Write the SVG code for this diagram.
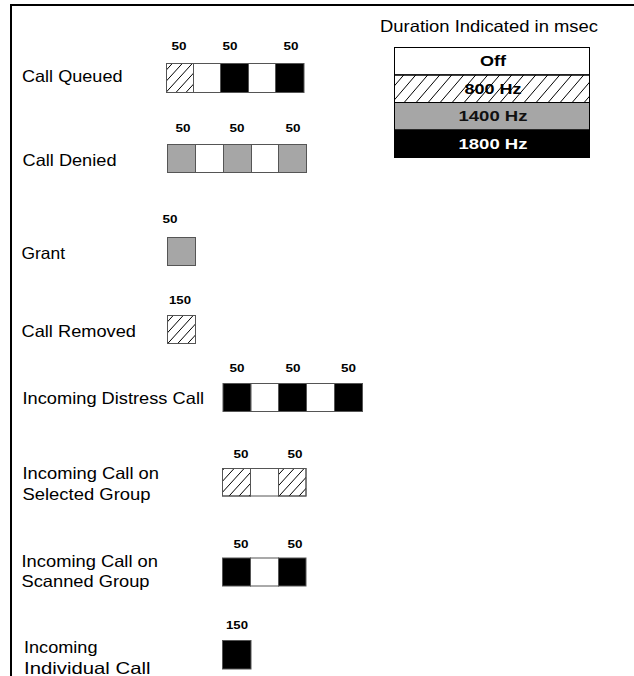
<svg xmlns="http://www.w3.org/2000/svg" width="634" height="676" viewBox="0 0 634 676">
<defs>
<pattern id="hatch" patternUnits="userSpaceOnUse" width="10" height="11">
<path d="M-1,12.1 L11,-1.1 M-11,12.1 L1,-1.1 M9,12.1 L21,-1.1" stroke="#000" stroke-width="1"/>
</pattern>
<pattern id="hatchL" patternUnits="userSpaceOnUse" width="12" height="14">
<path d="M0,14 L12,0 M-12,14 L0,0 M12,14 L24,0" stroke="#000" stroke-width="1"/>
</pattern>
<style>
.lbl{font-family:"Liberation Sans",Arial,sans-serif;font-size:16.5px;fill:#000}
.num{font-family:"Liberation Sans",Arial,sans-serif;font-size:11.5px;font-weight:bold;fill:#000;text-anchor:middle}
.leg{font-family:"Liberation Sans",Arial,sans-serif;font-size:15.5px;font-weight:bold;text-anchor:middle}
.c{stroke:#555;stroke-width:1}
.w{fill:#fff}
.k{fill:#000}
.g{fill:#a6a6a6}
.h{fill:url(#hatch)}
</style>
</defs>
<rect x="0" y="0" width="634" height="676" fill="#fff"/>
<path d="M11,680 L11,5 L640,5" fill="none" stroke="#000" stroke-width="2"/>

<g id="legend">
<text class="lbl" x="380" y="32" textLength="218" lengthAdjust="spacingAndGlyphs">Duration Indicated in msec</text>
<rect x="394.5" y="47.5" width="195" height="27.5" fill="#fff" stroke="#000"/>
<rect x="394.5" y="75" width="195" height="27.5" fill="#fff" stroke="#000"/>
<rect x="394.5" y="75" width="195" height="27.5" fill="url(#hatchL)" stroke="#000"/>
<rect x="394.5" y="102.5" width="195" height="27.5" fill="#a6a6a6" stroke="#000"/>
<rect x="394.5" y="130" width="195" height="27.5" fill="#000" stroke="#000"/>
<text class="leg" x="493" y="66" fill="#000" textLength="26" lengthAdjust="spacingAndGlyphs">Off</text>
<text class="leg" x="493" y="94" fill="#000" textLength="57" lengthAdjust="spacingAndGlyphs">800 Hz</text>
<text class="leg" x="493" y="121" fill="#111" textLength="69" lengthAdjust="spacingAndGlyphs">1400 Hz</text>
<text class="leg" x="493" y="148.5" fill="#fff" textLength="69" lengthAdjust="spacingAndGlyphs">1800 Hz</text>
</g>

<g id="call-queued">
<text class="lbl" x="22" y="81.5" textLength="100.5" lengthAdjust="spacingAndGlyphs">Call Queued</text>
<text class="num" x="179" y="50" textLength="15" lengthAdjust="spacingAndGlyphs">50</text>
<text class="num" x="230" y="50" textLength="15" lengthAdjust="spacingAndGlyphs">50</text>
<text class="num" x="291" y="50" textLength="15" lengthAdjust="spacingAndGlyphs">50</text>
<rect class="c w" x="166.5" y="63.5" width="27" height="29"/>
<rect class="c h" x="166.5" y="63.5" width="27" height="29"/>
<rect class="c w" x="193.5" y="63.5" width="27" height="29"/>
<rect class="c k" x="220.5" y="63.5" width="28" height="29"/>
<rect class="c w" x="248.5" y="63.5" width="27" height="29"/>
<rect class="c k" x="275.5" y="63.5" width="28.5" height="29"/>
</g>

<g id="call-denied">
<text class="lbl" x="22.5" y="165.5" textLength="94" lengthAdjust="spacingAndGlyphs">Call Denied</text>
<text class="num" x="183" y="131.5" textLength="15" lengthAdjust="spacingAndGlyphs">50</text>
<text class="num" x="237" y="131.5" textLength="15" lengthAdjust="spacingAndGlyphs">50</text>
<text class="num" x="293" y="131.5" textLength="15" lengthAdjust="spacingAndGlyphs">50</text>
<rect class="c g" x="167.5" y="144.5" width="28" height="28"/>
<rect class="c w" x="195.5" y="144.5" width="28" height="28"/>
<rect class="c g" x="223.5" y="144.5" width="28" height="28"/>
<rect class="c w" x="251.5" y="144.5" width="27" height="28"/>
<rect class="c g" x="278.5" y="144.5" width="28" height="28"/>
</g>

<g id="grant">
<text class="lbl" x="21.5" y="258.5" textLength="43.5" lengthAdjust="spacingAndGlyphs">Grant</text>
<text class="num" x="170" y="222.5" textLength="15" lengthAdjust="spacingAndGlyphs">50</text>
<rect class="c g" x="167.5" y="237.5" width="28" height="28"/>
</g>

<g id="call-removed">
<text class="lbl" x="21.5" y="336.5" textLength="114.5" lengthAdjust="spacingAndGlyphs">Call Removed</text>
<text class="num" x="180" y="304" textLength="22" lengthAdjust="spacingAndGlyphs">150</text>
<rect class="c w" x="167.5" y="315.5" width="28" height="28"/>
<rect class="c h" x="167.5" y="315.5" width="28" height="28"/>
</g>

<g id="incoming-distress-call">
<text class="lbl" x="22.5" y="404" textLength="181.5" lengthAdjust="spacingAndGlyphs">Incoming Distress Call</text>
<text class="num" x="237" y="371.5" textLength="15" lengthAdjust="spacingAndGlyphs">50</text>
<text class="num" x="293" y="371.5" textLength="15" lengthAdjust="spacingAndGlyphs">50</text>
<text class="num" x="348.5" y="371.5" textLength="15" lengthAdjust="spacingAndGlyphs">50</text>
<rect class="c k" x="223" y="383.5" width="28" height="28"/>
<rect class="c w" x="251" y="383.5" width="27.5" height="28"/>
<rect class="c k" x="278.5" y="383.5" width="28" height="28"/>
<rect class="c w" x="306.5" y="383.5" width="28" height="28"/>
<rect class="c k" x="334.5" y="383.5" width="28" height="28"/>
</g>

<g id="incoming-call-selected-group">
<text class="lbl" x="22.5" y="478.5" textLength="136.5" lengthAdjust="spacingAndGlyphs">Incoming Call on</text>
<text class="lbl" x="22.5" y="500" textLength="128" lengthAdjust="spacingAndGlyphs">Selected Group</text>
<text class="num" x="241" y="458" textLength="15" lengthAdjust="spacingAndGlyphs">50</text>
<text class="num" x="295" y="458" textLength="15" lengthAdjust="spacingAndGlyphs">50</text>
<rect class="c w" x="222.5" y="468.5" width="28" height="27.5"/>
<rect class="c h" x="222.5" y="468.5" width="28" height="27.5"/>
<rect class="c w" x="250.5" y="468.5" width="28" height="27.5"/>
<rect class="c w" x="278.5" y="468.5" width="27.5" height="27.5"/>
<rect class="c h" x="278.5" y="468.5" width="27.5" height="27.5"/>
</g>

<g id="incoming-call-scanned-group">
<text class="lbl" x="21.5" y="567" textLength="136.5" lengthAdjust="spacingAndGlyphs">Incoming Call on</text>
<text class="lbl" x="21.5" y="587" textLength="128" lengthAdjust="spacingAndGlyphs">Scanned Group</text>
<text class="num" x="241" y="547.5" textLength="15" lengthAdjust="spacingAndGlyphs">50</text>
<text class="num" x="295" y="547.5" textLength="15" lengthAdjust="spacingAndGlyphs">50</text>
<rect class="c k" x="222.5" y="558" width="28" height="28"/>
<rect class="c w" x="250.5" y="558" width="28" height="28"/>
<rect class="c k" x="278.5" y="558" width="27.5" height="28"/>
</g>

<g id="incoming-individual-call">
<text class="lbl" x="24" y="653" textLength="73.5" lengthAdjust="spacingAndGlyphs">Incoming</text>
<text class="lbl" x="24" y="673.5" textLength="126.5" lengthAdjust="spacingAndGlyphs">Individual Call</text>
<text class="num" x="237" y="629" textLength="22" lengthAdjust="spacingAndGlyphs">150</text>
<rect class="c k" x="222.5" y="640.5" width="28.5" height="28.5"/>
</g>
</svg>
